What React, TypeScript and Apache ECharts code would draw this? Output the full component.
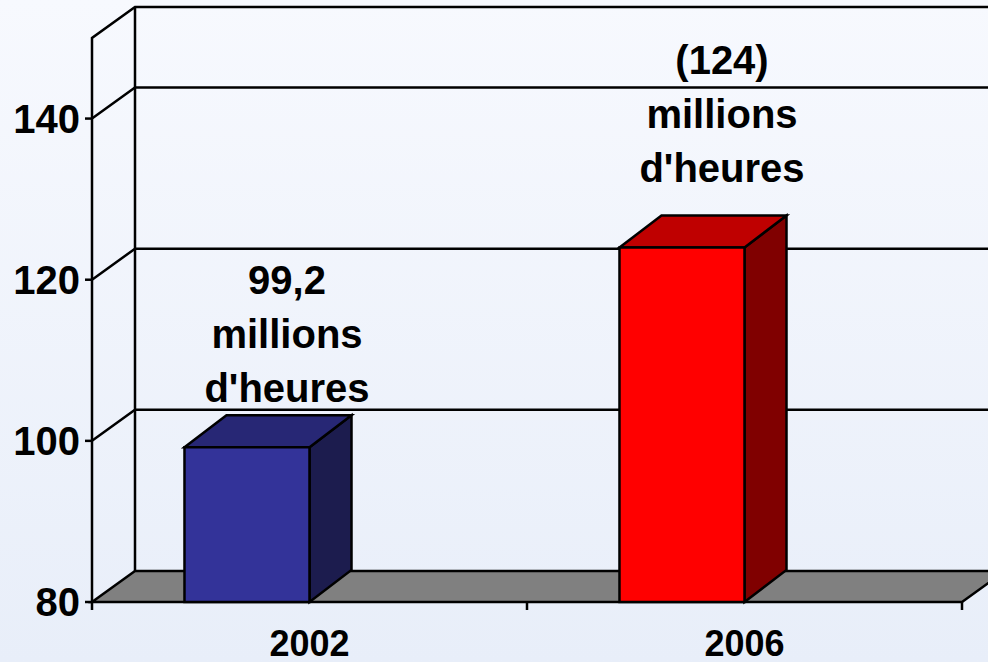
import React, { useEffect, useRef } from "react";
import * as echarts from "echarts";

// ---- data ----
const categories = ["2002", "2006"];
const values = [99.2, 124];
const valueLabels = ["99,2\nmillions\nd'heures", "(124)\nmillions\nd'heures"];
const yTicks = [80, 100, 120, 140];
const yMin = 80;
const yMax = 150;

// ---- styles / layout ----
const frontColors = ["#333399", "#ff0000"];
const topColors = ["#272775", "#bf0000"];
const sideColors = ["#1c1c4e", "#800000"];
const labelLift = [0, 20];
const FONT = "'Liberation Sans', Arial, Helvetica, sans-serif";
const WALL_DX = 43;
const WALL_DY = -31;
const BAR_DX = 42;
const BAR_DY = -32;
const LW = 2.5;

export default function App() {
  const ref = useRef<HTMLDivElement>(null);

  useEffect(() => {
    document.body.style.margin = "0";
    if (!ref.current) return;
    const chart = echarts.init(ref.current, undefined, { renderer: "svg" });

    const lineStyle = { stroke: "#000", lineWidth: LW, fill: null };

    const option: any = {
      animation: false,
      backgroundColor: {
        type: "linear",
        x: 0,
        y: 0,
        x2: 0,
        y2: 1,
        colorStops: [
          { offset: 0, color: "#f7f9fe" },
          { offset: 1, color: "#e8eef9" },
        ],
      },
      grid: { left: 92, right: 26, top: 38, bottom: 60 },
      xAxis: {
        type: "category",
        data: categories,
        axisLine: { show: false },
        axisTick: { show: false },
        axisLabel: {
          fontSize: 36,
          fontWeight: "bold",
          color: "#000",
          fontFamily: FONT,
          margin: 23,
        },
      },
      yAxis: {
        type: "value",
        min: yMin,
        max: yMax,
        interval: 20,
        axisLine: { show: false },
        axisTick: { show: false },
        splitLine: { show: false },
        axisLabel: {
          fontSize: 40,
          fontWeight: "bold",
          color: "#000",
          fontFamily: FONT,
          margin: 12,
          showMaxLabel: false,
          formatter: (v: number) => (yTicks.indexOf(v) >= 0 ? String(v) : ""),
        },
      },
      series: [
        {
          type: "custom",
          name: "frame",
          silent: true,
          clip: false,
          z: 1,
          data: [[0, yMin]],
          renderItem: (params: any, api: any) => {
            const cs = params.coordSys;
            const left = cs.x;
            const right = cs.x + cs.width;
            const yBot = api.coord([0, yMin])[1];
            const yTop = api.coord([0, yMax])[1];
            const band = api.size([1, 0])[0];
            const children: any[] = [];
            children.push({
              type: "polygon",
              shape: {
                points: [
                  [left, yBot],
                  [right, yBot],
                  [right + WALL_DX, yBot + WALL_DY],
                  [left + WALL_DX, yBot + WALL_DY],
                ],
              },
              style: { fill: "#808080", stroke: "#000", lineWidth: LW },
            });
            children.push({
              type: "polyline",
              shape: {
                points: [
                  [left, yBot],
                  [left, yTop],
                  [left + WALL_DX, yTop + WALL_DY],
                  [right + WALL_DX, yTop + WALL_DY],
                ],
              },
              style: lineStyle,
            });
            children.push({
              type: "line",
              shape: {
                x1: left + WALL_DX,
                y1: yBot + WALL_DY,
                x2: left + WALL_DX,
                y2: yTop + WALL_DY,
              },
              style: lineStyle,
            });
            yTicks
              .filter((v) => v > yMin)
              .forEach((v) => {
                const y = api.coord([0, v])[1];
                children.push({
                  type: "polyline",
                  shape: {
                    points: [
                      [left, y],
                      [left + WALL_DX, y + WALL_DY],
                      [right + WALL_DX, y + WALL_DY],
                    ],
                  },
                  style: lineStyle,
                });
              });
            yTicks.forEach((v) => {
              const y = api.coord([0, v])[1];
              children.push({
                type: "line",
                shape: { x1: left - 7, y1: y, x2: left, y2: y },
                style: lineStyle,
              });
            });
            for (let k = 0; k <= categories.length; k++) {
              const x = left + k * band;
              children.push({
                type: "line",
                shape: { x1: x, y1: yBot, x2: x, y2: yBot + 8 },
                style: lineStyle,
              });
            }
            return { type: "group", children };
          },
        },
        {
          type: "custom",
          name: "bars",
          clip: false,
          z: 2,
          data: values.map((v, i) => [i, v]),
          renderItem: (params: any, api: any) => {
            const i = params.dataIndex;
            const v = api.value(1);
            const pt = api.coord([api.value(0), v]);
            const cx = pt[0];
            const yT = pt[1];
            const yB = api.coord([api.value(0), yMin])[1];
            const band = api.size([1, 0])[0];
            const bw = band * 0.2874;
            const x1 = cx;
            const x0 = cx - bw;
            const st = { stroke: "#000", lineWidth: LW, lineJoin: "miter" };
            return {
              type: "group",
              children: [
                {
                  type: "polygon",
                  shape: {
                    points: [
                      [x1, yT],
                      [x1 + BAR_DX, yT + BAR_DY],
                      [x1 + BAR_DX, yB + BAR_DY],
                      [x1, yB],
                    ],
                  },
                  style: { ...st, fill: sideColors[i] },
                },
                {
                  type: "polygon",
                  shape: {
                    points: [
                      [x0, yT],
                      [x0 + BAR_DX, yT + BAR_DY],
                      [x1 + BAR_DX, yT + BAR_DY],
                      [x1, yT],
                    ],
                  },
                  style: { ...st, fill: topColors[i] },
                },
                {
                  type: "polygon",
                  shape: {
                    points: [
                      [x0, yT],
                      [x1, yT],
                      [x1, yB],
                      [x0, yB],
                    ],
                  },
                  style: { ...st, fill: frontColors[i] },
                },
                {
                  type: "text",
                  x: x0 + bw * 0.82,
                  y: yT + BAR_DY - labelLift[i],
                  style: {
                    text: valueLabels[i],
                    fontSize: 40,
                    fontWeight: "bold",
                    fontFamily: FONT,
                    fill: "#000",
                    align: "center",
                    verticalAlign: "bottom",
                    lineHeight: 54,
                  },
                },
              ],
            };
          },
        },
      ],
    };

    chart.setOption(option);
    return () => chart.dispose();
  }, []);

  return <div ref={ref} style={{ width: 988, height: 662 }} />;
}
